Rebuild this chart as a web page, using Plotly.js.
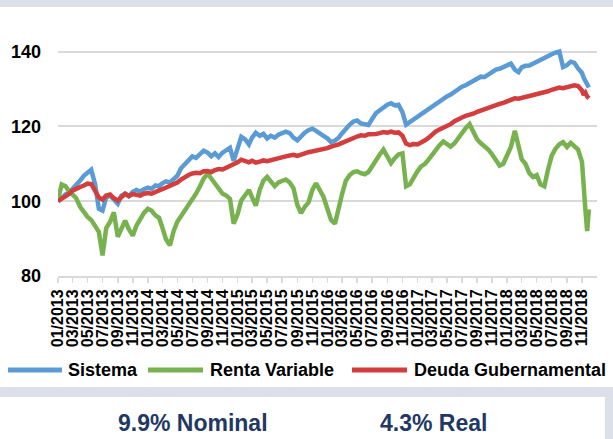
<!DOCTYPE html>
<html>
<head>
<meta charset="utf-8">
<script src="https://cdn.plot.ly/plotly-3.0.1.min.js"></script>
<style>
html,body{margin:0;padding:0;background:#fff;}
#chart{width:613px;height:439px;}
</style>
</head>
<body>
<div id="chart"></div>
<script>
// ---- data (semi-monthly readings, index base 100 = 01/2013) ----
const dates = [
'2013-01-01','2013-01-16','2013-02-01','2013-02-16','2013-03-01','2013-03-16','2013-04-01','2013-04-16','2013-05-01','2013-05-16','2013-06-01','2013-06-16','2013-07-01','2013-07-16','2013-08-01','2013-08-16','2013-09-01','2013-09-16','2013-10-01','2013-10-16','2013-11-01','2013-11-16','2013-12-01','2013-12-16',
'2014-01-01','2014-01-16','2014-02-01','2014-02-16','2014-03-01','2014-03-16','2014-04-01','2014-04-16','2014-05-01','2014-05-16','2014-06-01','2014-06-16','2014-07-01','2014-07-16','2014-08-01','2014-08-16','2014-09-01','2014-09-16','2014-10-01','2014-10-16','2014-11-01','2014-11-16','2014-12-01','2014-12-16',
'2015-01-01','2015-01-16','2015-02-01','2015-02-16','2015-03-01','2015-03-16','2015-04-01','2015-04-16','2015-05-01','2015-05-16','2015-06-01','2015-06-16','2015-07-01','2015-07-16','2015-08-01','2015-08-16','2015-09-01','2015-09-16','2015-10-01','2015-10-16','2015-11-01','2015-11-16','2015-12-01','2015-12-16',
'2016-01-01','2016-01-16','2016-02-01','2016-02-16','2016-03-01','2016-03-16','2016-04-01','2016-04-16','2016-05-01','2016-05-16','2016-06-01','2016-06-16','2016-07-01','2016-07-16','2016-08-01','2016-08-16','2016-09-01','2016-09-16','2016-10-01','2016-10-16','2016-11-01','2016-11-16','2016-12-01','2016-12-16',
'2017-01-01','2017-01-16','2017-02-01','2017-02-16','2017-03-01','2017-03-16','2017-04-01','2017-04-16','2017-05-01','2017-05-16','2017-06-01','2017-06-16','2017-07-01','2017-07-16','2017-08-01','2017-08-16','2017-09-01','2017-09-16','2017-10-01','2017-10-16','2017-11-01','2017-11-16','2017-12-01','2017-12-16',
'2018-01-01','2018-01-16','2018-02-01','2018-02-16','2018-03-01','2018-03-16','2018-04-01','2018-04-16','2018-05-01','2018-05-16','2018-06-01','2018-06-16','2018-07-01','2018-07-16','2018-08-01','2018-08-16','2018-09-01','2018-09-16','2018-10-01','2018-10-16',
'2018-11-01','2018-11-08','2018-11-15','2018-11-22','2018-11-29'
];

const sistema = [
100.0,101.0,101.8,102.3,103.2,104.0,105.5,106.8,107.8,108.4,104.5,98.0,97.5,101.0,101.5,100.2,99.3,101.5,102.0,101.3,102.5,103.0,102.6,103.2,
103.6,103.3,104.2,104.0,104.8,105.3,105.0,105.9,106.8,108.8,110.0,111.0,112.0,111.6,112.8,113.5,113.0,112.0,112.8,111.8,113.0,113.6,114.3,110.8,
114.5,117.2,116.5,115.2,117.0,118.3,117.5,118.0,116.8,117.5,117.0,117.8,118.2,118.6,118.2,117.0,116.3,117.5,118.3,119.0,119.4,118.8,118.3,117.5,
116.8,115.8,116.2,117.0,118.2,119.5,120.5,121.3,121.6,120.8,120.5,120.4,122.0,123.5,124.3,125.2,125.8,126.2,125.6,125.8,123.8,120.5,121.2,122.0,
122.6,123.3,124.0,124.8,125.5,126.2,126.8,127.5,128.0,128.5,129.3,130.0,130.6,131.0,131.6,132.2,132.6,133.3,133.2,133.8,134.4,135.2,135.4,135.8,
136.4,136.8,135.2,134.5,135.8,136.2,136.3,136.8,137.3,137.8,138.6,139.0,139.3,139.7,140.0,135.9,136.4,137.3,137.0,135.5,
134.3,133.0,132.0,131.5,130.4
];

const rentaVariable = [
100.5,104.5,104.0,102.5,101.8,100.8,98.5,97.2,95.8,95.0,93.5,91.8,85.5,92.8,94.5,97.0,90.5,93.0,94.8,92.5,90.8,93.5,95.2,96.8,
98.0,97.5,96.2,95.5,93.0,89.8,88.2,92.0,94.5,96.0,97.2,99.0,100.5,102.0,104.0,106.0,107.4,106.0,104.5,103.0,102.0,101.5,100.6,94.0,
96.5,100.2,101.8,103.0,101.0,98.8,103.0,105.5,106.5,105.2,104.0,105.0,105.5,105.8,105.0,103.5,99.0,96.8,98.5,99.6,103.0,104.8,103.0,101.2,
98.0,95.0,94.0,98.5,102.0,105.5,107.0,107.8,108.0,107.5,107.2,107.8,109.5,111.0,112.5,113.8,112.0,110.2,111.5,112.5,112.8,104.0,104.5,106.5,
108.0,109.3,110.0,111.2,112.4,113.3,115.0,116.0,115.3,114.6,115.5,117.0,118.5,119.5,120.6,118.5,116.5,115.5,114.8,113.8,112.5,111.0,109.5,110.0,
112.5,114.5,118.8,114.0,111.2,110.0,107.5,106.5,107.0,104.5,104.0,108.5,112.2,114.0,115.2,115.8,114.5,115.6,114.8,113.8,
110.5,101.0,97.5,92.0,97.8
];

const deudaGubernamental = [
100.0,100.6,101.3,102.0,102.8,103.4,103.8,104.2,104.7,104.6,102.8,101.0,100.4,101.5,101.8,100.8,100.2,101.2,102.0,101.4,101.9,101.7,101.5,102.0,
102.2,102.0,102.6,102.9,103.2,103.6,103.9,104.3,105.0,105.8,106.5,107.0,107.4,107.6,107.5,108.0,108.1,107.8,108.3,108.6,108.5,108.9,109.3,109.8,
110.4,111.1,110.8,110.4,110.8,110.3,110.6,110.9,110.7,111.0,111.2,111.4,111.8,112.0,112.2,112.4,112.1,112.6,112.8,113.1,113.3,113.6,113.8,114.0,
114.2,114.6,114.8,115.2,115.6,116.1,116.6,117.0,117.3,117.6,117.5,117.9,118.1,118.0,118.2,118.5,118.3,118.6,118.3,118.4,117.5,115.4,115.0,115.3,
115.2,115.6,116.3,117.0,117.8,118.6,119.2,119.6,120.0,120.6,121.4,122.0,122.4,122.8,123.0,123.4,123.9,124.3,124.6,124.8,125.2,125.6,126.0,126.3,
126.8,127.2,127.5,127.4,127.6,128.0,128.3,128.6,128.8,129.0,129.2,129.4,129.8,130.2,130.4,130.2,130.5,130.8,131.0,130.8,
129.6,128.4,129.0,128.0,127.5
];

const seriesNames = ['Sistema','Renta Variable','Deuda Gubernamental'];

const tickDates = [
'2013-01-01','2013-03-01','2013-05-01','2013-07-01','2013-09-01','2013-11-01',
'2014-01-01','2014-03-01','2014-05-01','2014-07-01','2014-09-01','2014-11-01',
'2015-01-01','2015-03-01','2015-05-01','2015-07-01','2015-09-01','2015-11-01',
'2016-01-01','2016-03-01','2016-05-01','2016-07-01','2016-09-01','2016-11-01',
'2017-01-01','2017-03-01','2017-05-01','2017-07-01','2017-09-01','2017-11-01',
'2018-01-01','2018-03-01','2018-05-01','2018-07-01','2018-09-01','2018-11-01'
];
const tickLabels = [
'01/2013','03/2013','05/2013','07/2013','09/2013','11/2013',
'01/2014','03/2014','05/2014','07/2014','09/2014','11/2014',
'01/2015','03/2015','05/2015','07/2015','09/2015','11/2015',
'01/2016','03/2016','05/2016','07/2016','09/2016','11/2016',
'01/2017','03/2017','05/2017','07/2017','09/2017','11/2017',
'01/2018','03/2018','05/2018','07/2018','09/2018','11/2018'
];
const yTicks = [80, 100, 120, 140];
const footerTexts = ['9.9% Nominal', '4.3% Real'];

// ---- styling / layout ----
const W = 613, H = 439;
const M = {l: 58, r: 16, t: 46, b: 163};
const PW = W - M.l - M.r, PH = H - M.t - M.b;
const px = x => (x - M.l) / PW;
const py = y => (H - M.b - y) / PH;

const colors = ['#5b9bd5', '#77b24f', '#d43d3d'];
const FONT = 'Liberation Sans, Arial, sans-serif';
const seriesData = [sistema, rentaVariable, deudaGubernamental];
const drawOrder = [0, 1, 2];

const traces = drawOrder.map(i => ({
  type: 'scatter', mode: 'lines', x: dates, y: seriesData[i], name: seriesNames[i],
  line: {color: colors[i], width: 4.5, shape: 'linear'}, showlegend: false, hoverinfo: 'skip'
}));

const bandColor = '#dce1e9';
const shapes = [
  {type:'rect', xref:'paper', yref:'paper', x0:px(0), x1:px(W), y0:py(0), y1:py(7), fillcolor:bandColor, line:{width:0}, layer:'below'},
  {type:'rect', xref:'paper', yref:'paper', x0:px(0), x1:px(W), y0:py(387), y1:py(397), fillcolor:bandColor, line:{width:0}, layer:'below'},
  {type:'rect', xref:'paper', yref:'paper', x0:px(605), x1:px(W), y0:py(387), y1:py(H), fillcolor:bandColor, line:{width:0}, layer:'below'}
];
const legendPos = [{x0:8, x1:62, tx:66}, {x0:148, x1:203, tx:208}, {x0:352, x1:407, tx:412}];
const legY = 370;
const annotations = [];
legendPos.forEach((p, i) => {
  shapes.push({type:'line', xref:'paper', yref:'paper', x0:px(p.x0), x1:px(p.x1), y0:py(legY), y1:py(legY), line:{color:colors[i], width:5}});
  annotations.push({xref:'paper', yref:'paper', x:px(p.tx), y:py(legY), xanchor:'left', yanchor:'middle', showarrow:false,
    text:seriesNames[i], font:{family:FONT, size:18, color:'#000', weight:'bold'}});
});
const footerX = [192.5, 433.5];
footerTexts.forEach((t, i) => {
  annotations.push({xref:'paper', yref:'paper', x:px(footerX[i]), y:py(423), xanchor:'center', yanchor:'middle', showarrow:false,
    text:t, font:{family:FONT, size:23, color:'#1f3864', weight:'bold'}});
});

const layout = {
  width: W, height: H, margin: M,
  paper_bgcolor: '#ffffff', plot_bgcolor: '#ffffff',
  showlegend: false,
  xaxis: {
    type: 'date', range: ['2013-01-01', '2019-01-01'], showgrid: false,
    showline: true, linecolor: '#d9d9d9', linewidth: 2,
    ticks: 'outside', ticklen: 5, tickwidth: 1.5, tickcolor: '#d9d9d9',
    tickmode: 'array', tickvals: tickDates, ticktext: tickLabels, tickangle: -90,
    tickfont: {family: FONT, size: 16, color: '#000', weight: 'bold'},
    fixedrange: true
  },
  yaxis: {
    range: [80, 141.5], tickmode: 'array', tickvals: yTicks,
    showgrid: true, gridcolor: '#d9d9d9', gridwidth: 2, zeroline: false, showline: false,
    ticks: '', ticklabelstandoff: 16,
    tickfont: {family: FONT, size: 18, color: '#000', weight: 'bold'},
    fixedrange: true
  },
  shapes: shapes, annotations: annotations
};

Plotly.newPlot('chart', traces, layout, {staticPlot: true, displayModeBar: false});
</script>
</body>
</html>
